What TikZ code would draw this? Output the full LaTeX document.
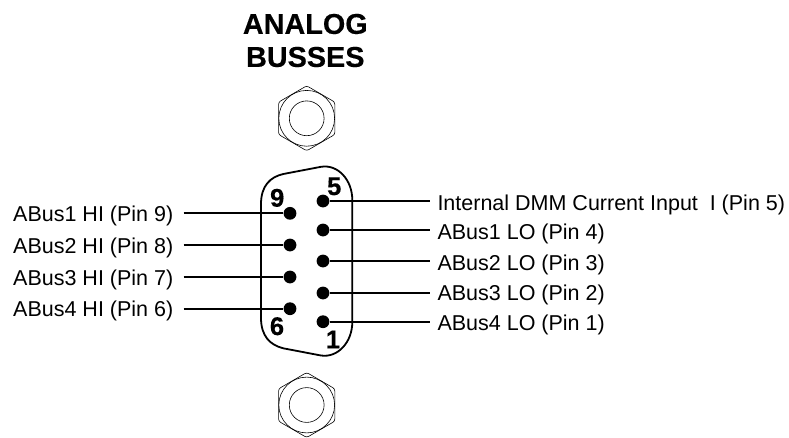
\documentclass[tikz,border=0pt]{standalone}
\usepackage{fontspec}
\setmainfont[BoldFeatures={FakeBold=0.35}]{Liberation Sans}
\tikzset{
  x=1pt,y=-1pt,
  pinhole/.style={circle,fill=black,draw=none,minimum size=12.8pt,inner sep=0pt},
  lab/.style={font=\fontsize{21.5pt}{24pt}\selectfont,inner sep=0pt,anchor=base west},
  num/.style={font=\bfseries\fontsize{25.6pt}{28pt}\selectfont,inner sep=0pt,anchor=base},
  wire/.style={line width=1.7pt},
  shell/.style={line width=1.8pt,line join=round},
  nutline/.style={line width=.6pt},
  nuthex/.style={nutline,rounded corners=2.2pt},
}
\newcommand{\nutshape}[1]{%
  \begin{scope}[shift={(#1)}]
    \draw[nutline] (0,0) circle[radius=17.4];
    \draw[nutline] (0,0) circle[radius=27.9];
    \draw[nuthex] (0,-32.5) -- (28.1,-16.2) -- (28.1,16.2) -- (0,32.5) -- (-28.1,16.2) -- (-28.1,-16.2) -- cycle;
  \end{scope}}
\begin{document}
\begin{tikzpicture}
\useasboundingbox (0,0) rectangle (789,437);
\node[font=\bfseries\fontsize{28.8pt}{33pt}\selectfont,align=center,inner sep=0pt] (title) at (305.3,40.5) {ANALOG\\BUSSES};
\nutshape{306.7,118.3}
\nutshape{306.7,405}
% connector shell
\draw[shell] (261,204) .. controls (261,186) and (270,177) .. (283.3,174) -- (321,166.8)
  .. controls (338,164) and (352.3,180) .. (352.3,200) -- (352.3,322)
  .. controls (352.3,342) and (338,358) .. (321,355.5) -- (283.3,348.3)
  .. controls (270,345) and (261,336) .. (261,318) -- cycle;
% pins
\node[pinhole] (p9) at (290,213.3) {};
\node[pinhole] (p8) at (290,245) {};
\node[pinhole] (p7) at (290,277) {};
\node[pinhole] (p6) at (290,308.7) {};
\node[pinhole] (p5) at (323,201) {};
\node[pinhole] (p4) at (323,230) {};
\node[pinhole] (p3) at (323,261) {};
\node[pinhole] (p2) at (323,293) {};
\node[pinhole] (p1) at (323,321.7) {};
% pin numbers
\node[num] (n9) at (277.2,206.7) {9};
\node[num] (n5) at (334.2,195) {5};
\node[num] (n6) at (277,335) {6};
\node[num] (n1) at (333,348.3) {1};
% labels
\node[lab] (l9) at (13,221.7) {ABus1 HI (Pin 9)};
\node[lab] (l8) at (13,253.3) {ABus2 HI (Pin 8)};
\node[lab] (l7) at (13,285) {ABus3 HI (Pin 7)};
\node[lab] (l6) at (13,316.3) {ABus4 HI (Pin 6)};
\node[lab] (l5) at (437.3,210.7) {Internal DMM Current Input\hspace{.55em}I (Pin 5)};
\node[lab] (l4) at (437.3,239.3) {ABus1 LO (Pin 4)};
\node[lab] (l3) at (437.3,270) {ABus2 LO (Pin 3)};
\node[lab] (l2) at (437.3,300.7) {ABus3 LO (Pin 2)};
\node[lab] (l1) at (437.3,330) {ABus4 LO (Pin 1)};
% wires
\coordinate (w9) at (183.5,213.3);
\coordinate (w8) at (183.5,245);
\coordinate (w7) at (183.5,277);
\coordinate (w6) at (183.5,308.7);
\coordinate (w5) at (429.5,201);
\coordinate (w4) at (429.5,230);
\coordinate (w3) at (429.5,261);
\coordinate (w2) at (429.5,293);
\coordinate (w1) at (429.5,321.7);
\foreach \k in {9,8,7,6,5,4,3,2,1}{\draw[wire] (w\k) -- (p\k);}
\end{tikzpicture}
\end{document}
